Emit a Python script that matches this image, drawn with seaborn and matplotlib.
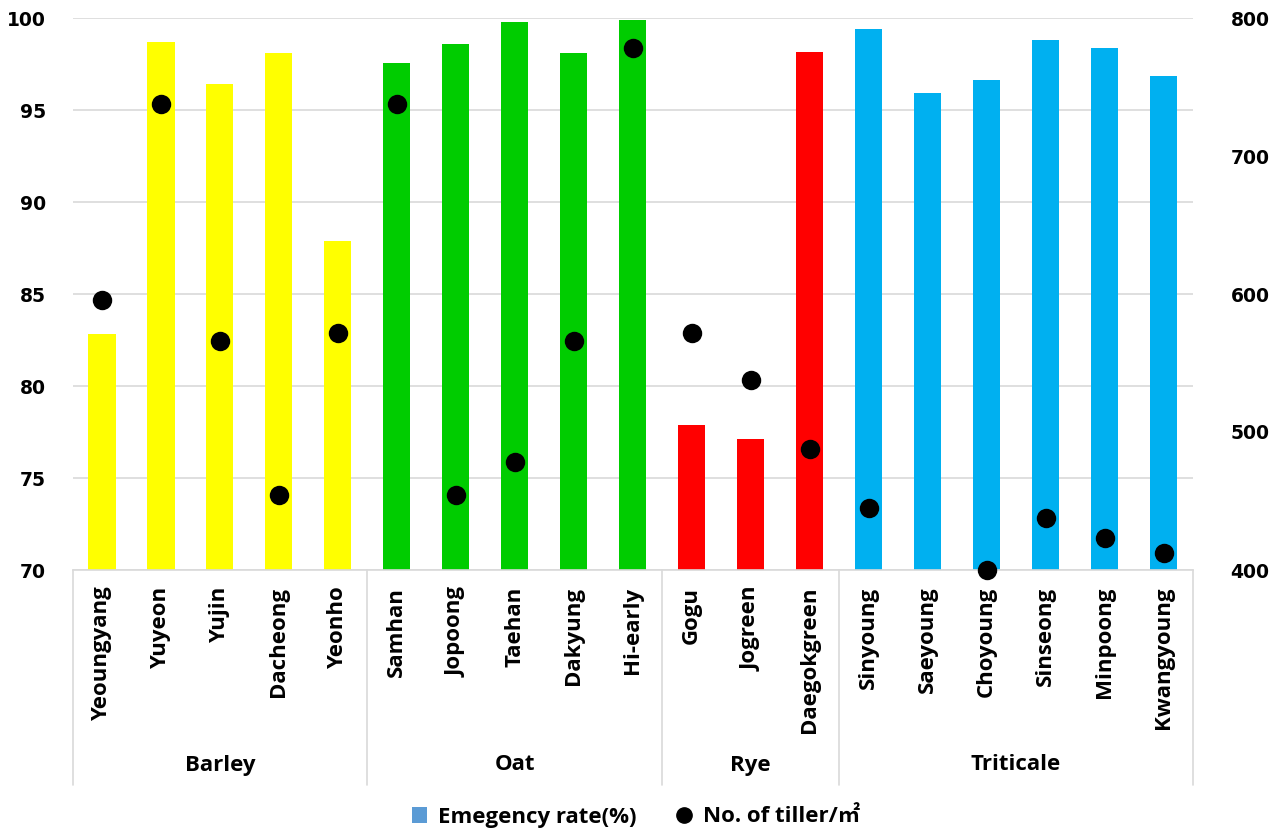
import matplotlib
matplotlib.use("Agg")
import matplotlib.pyplot as plt
import matplotlib.transforms as mtransforms
from matplotlib.lines import Line2D
from matplotlib.patches import Patch
import numpy as np
import pandas as pd
import seaborn as sns

# Cultivars grouped by crop
crops = ["Barley", "Oat", "Rye", "Triticale"]
barley = ["Yeoungyang", "Yuyeon", "Yujin", "Dacheong", "Yeonho"]
oat = ["Samhan", "Jopoong", "Taehan", "Dakyung", "Hi-early"]
rye = ["Gogu", "Jogreen", "Daegokgreen"]
triticale = ["Sinyoung", "Saeyoung", "Choyoung", "Sinseong", "Minpoong", "Kwangyoung"]

# Emergence rate (%) per cultivar
emergence_rate = [82.8, 98.7, 96.4, 98.1, 87.9,
                  97.55, 98.6, 99.8, 98.1, 99.9,
                  77.9, 77.1, 98.15,
                  99.4, 95.9, 96.65, 98.8, 98.35, 96.85]

# Number of tillers per square metre
tillers = [596, 738, 566, 454, 572,
           738, 454, 478, 566, 778,
           572, 538, 488,
           445, np.nan, 400, 438, 423, 412]

crop_colors = {"Barley": "#FFFF00", "Oat": "#00CC00",
               "Rye": "#FF0000", "Triticale": "#00B0F0"}

groups = [barley, oat, rye, triticale]
cultivars = [c for g in groups for c in g]
crop_of = [crop for crop, g in zip(crops, groups) for _ in g]

df = pd.DataFrame({"cultivar": cultivars, "crop": crop_of,
                   "rate": emergence_rate, "tiller": tillers})

sns.set_theme(style="white", rc={"text.color": "black", "xtick.color": "black",
                                 "ytick.color": "black", "axes.labelcolor": "black"})
plt.rcParams["font.family"] = ["DejaVu Sans", "Noto Sans CJK KR"]
LABEL_FONT = ["Open Sans", "Noto Sans CJK KR"]

fig = plt.figure(figsize=(12.72, 8.35), dpi=100)
ax = fig.add_axes([72.5 / 1272, 1 - 570 / 835, (1193 - 72.5) / 1272, 552 / 835])

sns.barplot(data=df, x="cultivar", y="rate", hue="crop", palette=crop_colors,
            order=cultivars, width=0.46, linewidth=0, legend=False, ax=ax,
            saturation=1, zorder=2)
ax.set_ylim(70, 100)
ax.set_yticks(np.arange(70, 101, 5))
ax.set_xlim(-0.5, len(cultivars) - 0.5)
ax.yaxis.grid(True, color="#D9D9D9", linewidth=1.2, zorder=0)
ax.set_axisbelow(True)
ax.set_xlabel("")
ax.set_ylabel("")
for side in ["left", "right", "top"]:
    ax.spines[side].set_visible(False)
ax.spines["bottom"].set_color("#D9D9D9")
ax.spines["bottom"].set_linewidth(1.2)

ax.tick_params(axis="y", length=0, pad=19, labelsize=13.5, labelcolor="black")
for lbl in ax.get_yticklabels():
    lbl.set_fontweight("bold")
ax.tick_params(axis="x", length=0, pad=12, labelcolor="black")
ax.set_xticks(range(len(cultivars)))
ax.set_xticklabels(cultivars, rotation=90, va="top", ha="center",
                   fontsize=16, fontweight="bold", family=LABEL_FONT)

ax2 = ax.twinx()
sns.stripplot(data=df, x="cultivar", y="tiller", order=cultivars, jitter=False,
              color="black", size=14, ax=ax2, zorder=5, clip_on=False)
ax2.set_ylim(400, 800)
ax2.set_yticks(np.arange(400, 801, 100))
ax2.set_xlim(-0.5, len(cultivars) - 0.5)
ax2.set_ylabel("")
ax2.set_xlabel("")
for side in ["left", "right", "top", "bottom"]:
    ax2.spines[side].set_visible(False)
ax2.tick_params(axis="y", length=0, pad=27, labelsize=13.5, labelcolor="black")
for lbl in ax2.get_yticklabels():
    lbl.set_fontweight("bold")

# Group separators and crop names under the cultivar labels
trans = mtransforms.blended_transform_factory(ax.transData, ax.transAxes)
bounds = np.cumsum([0] + [len(g) for g in groups]) - 0.5
for b in bounds:
    ax.plot([b, b], [0, -215 / 552], color="#D9D9D9", linewidth=1.2,
            transform=trans, clip_on=False)
for crop, lo, hi in zip(crops, bounds[:-1], bounds[1:]):
    ax.text((lo + hi) / 2, -195 / 552, crop, transform=trans, ha="center",
            va="center", fontsize=16, fontweight="bold", family=LABEL_FONT,
            color="black")

handles = [Patch(facecolor="#5B9BD5", edgecolor="none"),
           Line2D([], [], marker="o", linestyle="none", color="black", markersize=11)]
fig.legend(handles, ["Emegency rate(%)", "No. of tiller/㎡"],
           loc="center", bbox_to_anchor=(0.5, 1 - 817 / 835), ncol=2, frameon=False,
           prop={"weight": "bold", "size": 16, "family": LABEL_FONT},
           labelcolor="black",
           handlelength=0.7, handleheight=0.7, handletextpad=0.5, columnspacing=1.8)

fig.savefig("out.png", dpi=100)
